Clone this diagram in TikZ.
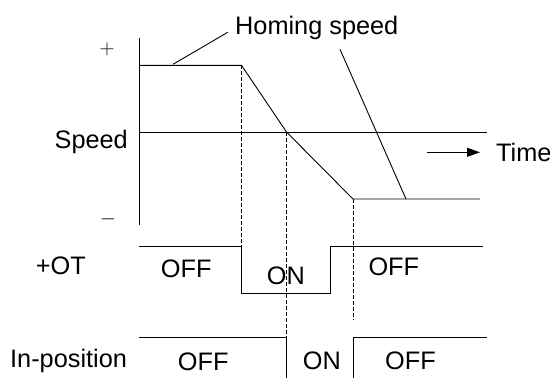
\documentclass[tikz,border=0pt]{standalone}
\usepackage{fontspec}
\setmainfont{Liberation Sans}
\usetikzlibrary{arrows.meta}
\begin{document}
\begin{tikzpicture}[x=1pt,y=-1pt,
  lbl/.style={font=\fontsize{25.3}{28}\selectfont, inner sep=0pt, anchor=base west},
  sgn/.style={font=\fontsize{21}{24}\selectfont, inner sep=0pt, anchor=center},
  sig/.style={line width=0.9pt},
  guide/.style={line width=0.8pt, dash pattern=on 4pt off 2pt}]
\useasboundingbox (0,0) rectangle (554,378);
% coordinates
\coordinate (axT) at (139,38);
\coordinate (axB) at (139,225);
\coordinate (s0) at (139,65.3);
\coordinate (s1) at (241.5,65.3);
\coordinate (sx) at (286.5,132);
\coordinate (s2) at (353,199);
\coordinate (s3) at (480,199);
\coordinate (z0) at (139,132);
\coordinate (z1) at (487,132);
\coordinate (l1a) at (173,64.3);
\coordinate (l1b) at (227.7,32.3);
\coordinate (l2a) at (340,49.3);
\coordinate (l2b) at (406,199);
\coordinate (ta) at (426.7,152.3);
\coordinate (tb) at (480,152.3);
% +OT
\coordinate (o0) at (139,246.7);
\coordinate (o1) at (241.5,246.7);
\coordinate (o2) at (241.5,293.3);
\coordinate (o3) at (330,293.3);
\coordinate (o4) at (330,246.7);
\coordinate (o5) at (482.7,246.7);
% In-position
\coordinate (p0) at (139,337.3);
\coordinate (p1) at (286.5,337.3);
\coordinate (p2) at (286.5,378);
\coordinate (p3) at (353,378);
\coordinate (p4) at (353,337.3);
\coordinate (p5) at (486.7,337.3);
\coordinate (d3) at (353,319.3);

% axes and speed profile
\draw[sig] (axT) -- (axB);
\draw[sig] (z0) -- (z1);
\draw[sig] (s0) -- (s1) -- (sx) -- (s2) -- (s3);
\draw[sig] (l1a) -- (l1b);
\draw[sig] (l2a) -- (l2b);
\draw[sig,-{Triangle[length=13pt,width=9pt]}] (ta) -- (tb);
% signals
\draw[sig] (o0) -- (o1) -- (o2) -- (o3) -- (o4) -- (o5);
\draw[sig] (p0) -- (p1) -- (p2);
\draw[sig] (p3) -- (p4) -- (p5);
% guides
\draw[guide] (s1) -- (o1);
\draw[guide] (sx) -- (p1);
\draw[guide] (s2) -- (d3);

% labels
\node[sgn] (plus) at (107,49) {$+$};
\node[sgn] (minus) at (108,219.3) {$-$};
\node[lbl] (homing) at (235,34.7) {Homing speed};
\node[lbl,anchor=base east] (speed) at (128,148.5) {Speed};
\node[lbl] (time) at (496,161.7) {Time};
\node[lbl] (ot) at (35.7,274) {+OT};
\node[lbl] (otoff1) at (160.7,277.7) {OFF};
\node[lbl] (oton) at (266.7,284.3) {ON};
\node[lbl] (otoff2) at (368.3,275.7) {OFF};
\node[lbl] (inpos) at (10,367.3) {In-position};
\node[lbl] (ipoff1) at (177.7,370) {OFF};
\node[lbl] (ipon) at (302.7,369) {ON};
\node[lbl] (ipoff2) at (385,369.3) {OFF};
\end{tikzpicture}
\end{document}
